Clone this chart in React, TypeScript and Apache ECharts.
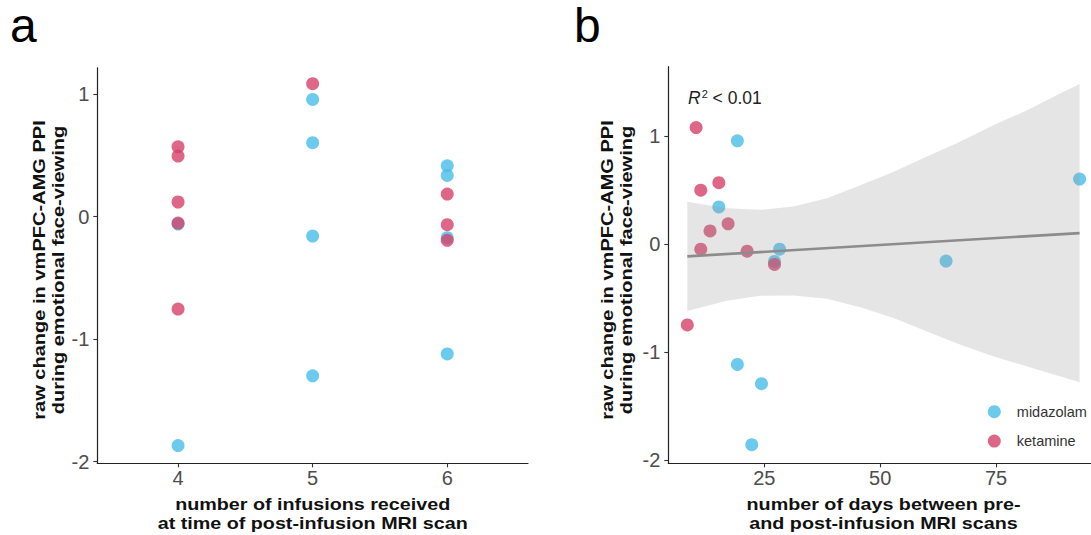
import React, { useEffect, useRef } from 'react';
import * as echarts from 'echarts';

// ---------- data ----------
const infusionTicks = [4, 5, 6];
const daysTicks = [25, 50, 75];
const yTicks = [-2, -1, 0, 1];

// panel a: number of infusions vs change
const infusionsMidazolam: [number, number][] = [
  [4, -1.869], [4, -0.06],
  [5, 0.958], [5, 0.604], [5, -0.158], [5, -1.3],
  [6, 0.416], [6, 0.337], [6, -0.171], [6, -1.121],
];
const infusionsKetamine: [number, number][] = [
  [4, 0.571], [4, 0.495], [4, 0.12], [4, -0.052], [4, -0.754],
  [5, 1.086],
  [6, 0.185], [6, -0.065], [6, -0.193],
];

// panel b: days between scans vs change
const daysMidazolam: [number, number][] = [
  [19.2, 0.957], [93, 0.603], [15.2, 0.345], [28.3, -0.046], [27.2, -0.16],
  [64.2, -0.157], [19.2, -1.114], [24.4, -1.292], [22.3, -1.858],
];
const daysKetamine: [number, number][] = [
  [10.3, 1.08], [11.3, 0.5], [15.2, 0.569], [13.3, 0.123], [17.2, 0.188],
  [11.3, -0.046], [21.3, -0.065], [27.2, -0.188], [8.4, -0.748],
];

// linear fit and its confidence band
const fitDays = [8.4, 93];
const fitValues = [-0.113, 0.102];
const bandDays = [8.4, 16.9, 24.1, 31.3, 38.5, 45.7, 52.9, 60.1, 67.3, 74.5, 81.7, 88.9, 93];
const bandUpper = [0.394, 0.333, 0.318, 0.348, 0.426, 0.545, 0.672, 0.811, 0.95, 1.105, 1.24, 1.398, 1.484];
const bandLower = [-0.618, -0.525, -0.479, -0.476, -0.506, -0.584, -0.685, -0.809, -0.932, -1.04, -1.133, -1.225, -1.28];

const seriesNames = ['midazolam', 'ketamine'];
const colors = ['#47BDE8', '#D6416A'];

const FONT = 'Liberation Sans, Arial, Helvetica, sans-serif';

function axisCommon(ticks: number[]) {
  return {
    type: 'value' as const,
    axisLine: { show: true, onZero: false, lineStyle: { color: '#222', width: 1.2 } },
    axisTick: { show: true, customValues: ticks, length: 4, lineStyle: { color: '#333', width: 1.1 } },
    axisLabel: { customValues: ticks, fontSize: 20, color: '#4d4d4d', fontFamily: FONT },
    splitLine: { show: false },
  };
}

const titleStyle = {
  fontSize: 17, fontWeight: 'bold', fontFamily: FONT, fill: '#111', lineHeight: 19,
  textAlign: 'center', textVerticalAlign: 'middle',
};

export default function App() {
  const ref = useRef<HTMLDivElement>(null);

  useEffect(() => {
    if (!ref.current) return;
    const chart = echarts.init(ref.current, undefined, { renderer: 'svg' });

    const bandData = bandDays.map((d, i) => [d, bandUpper[i], bandLower[i]]);

    const option: any = {
      animation: false,
      backgroundColor: '#ffffff',
      textStyle: { fontFamily: FONT },
      grid: [
        { left: 97.3, top: 67.8, width: 430.7, height: 395.5, outerBoundsMode: 'none', containLabel: false },
        { left: 668.3, top: 66.7, width: 430.3, height: 396.6, outerBoundsMode: 'none', containLabel: false },
      ],
      xAxis: [
        {
          ...axisCommon(infusionTicks),
          gridIndex: 0, min: 3.4, max: 6.6,
          axisLabel: { ...axisCommon(infusionTicks).axisLabel, margin: 5 },
        },
        {
          ...axisCommon(daysTicks),
          gridIndex: 1, min: 4.3, max: 97.1,
          axisLabel: { ...axisCommon(daysTicks).axisLabel, margin: 5 },
        },
      ],
      yAxis: [
        {
          ...axisCommon(yTicks),
          gridIndex: 0, min: -2.014, max: 1.216,
          axisLabel: { ...axisCommon(yTicks).axisLabel, margin: 8 },
        },
        {
          ...axisCommon(yTicks),
          gridIndex: 1, min: -2.03, max: 1.644,
          axisLabel: { ...axisCommon(yTicks).axisLabel, margin: 8 },
        },
      ],
      legend: {
        data: seriesNames,
        orient: 'vertical',
        left: 982.8,
        top: 399.2,
        icon: 'circle',
        itemWidth: 13,
        itemHeight: 13,
        itemGap: 14.4,
        selectedMode: false,
        textStyle: { fontSize: 14.5, color: '#333', fontFamily: FONT, lineHeight: 13, padding: [0, 0, 0, 11] },
      },
      series: [
        {
          name: seriesNames[0], type: 'scatter', xAxisIndex: 0, yAxisIndex: 0,
          data: infusionsMidazolam, symbolSize: 13, itemStyle: { color: colors[0] }, silent: true, z: 2,
        },
        {
          name: seriesNames[1], type: 'scatter', xAxisIndex: 0, yAxisIndex: 0,
          data: infusionsKetamine, symbolSize: 13, itemStyle: { color: colors[1] }, silent: true, z: 2,
        },
        {
          name: seriesNames[0], type: 'scatter', xAxisIndex: 1, yAxisIndex: 1,
          data: daysMidazolam, symbolSize: 13, itemStyle: { color: colors[0] }, silent: true, z: 2,
        },
        {
          name: seriesNames[1], type: 'scatter', xAxisIndex: 1, yAxisIndex: 1,
          data: daysKetamine, symbolSize: 13, itemStyle: { color: colors[1] }, silent: true, z: 2,
        },
        {
          name: 'ci', type: 'custom', xAxisIndex: 1, yAxisIndex: 1,
          data: bandData, encode: { x: 0, y: [1, 2] }, silent: true, z: 3, clip: true,
          renderItem: (params: any, api: any) => {
            if (params.dataIndex !== 0) return { type: 'group', children: [] };
            const up = bandDays.map((d, i) => api.coord([d, bandUpper[i]]));
            const lo = bandDays.map((d, i) => api.coord([d, bandLower[i]])).reverse();
            return {
              type: 'polygon',
              shape: { points: up.concat(lo), smooth: 0 },
              style: { fill: 'rgba(150,150,150,0.25)', stroke: 'none' },
            };
          },
        },
        {
          name: 'fit', type: 'line', xAxisIndex: 1, yAxisIndex: 1,
          data: fitDays.map((d, i) => [d, fitValues[i]]),
          showSymbol: false, symbol: 'none', silent: true, z: 4,
          lineStyle: { color: '#8c8c8c', width: 2.6 },
        },
      ],
      graphic: [
        { type: 'text', x: 10, y: 25, style: { text: 'a', fontSize: 48, fontFamily: FONT, fill: '#000', textVerticalAlign: 'middle' } },
        { type: 'text', x: 574, y: 25, style: { text: 'b', fontSize: 48, fontFamily: FONT, fill: '#000', textVerticalAlign: 'middle' } },
        {
          type: 'text', x: 312.7, y: 513, scaleX: 1.16,
          style: { ...titleStyle, text: 'number of infusions received\nat time of post-infusion MRI scan' },
        },
        {
          type: 'text', x: 883.5, y: 513, scaleX: 1.16,
          style: { ...titleStyle, text: 'number of days between pre-\nand post-infusion MRI scans' },
        },
        {
          type: 'text', x: 48.5, y: 270, rotation: Math.PI / 2, scaleX: 1.18,
          style: { ...titleStyle, text: 'raw change in vmPFC-AMG PPI\nduring emotional face-viewing' },
        },
        {
          type: 'text', x: 617, y: 270, rotation: Math.PI / 2, scaleX: 1.18,
          style: { ...titleStyle, text: 'raw change in vmPFC-AMG PPI\nduring emotional face-viewing' },
        },
        {
          type: 'text', x: 688, y: 97.5,
          style: {
            text: '{r|R}{s|2}{t| < 0.01}',
            textVerticalAlign: 'middle',
            fill: '#222',
            rich: {
              r: { fontSize: 17.5, fontStyle: 'italic', fontFamily: FONT, fill: '#222', lineHeight: 18 },
              s: { fontSize: 11, fontFamily: FONT, fill: '#222', lineHeight: 18, verticalAlign: 'top', padding: [0, 0, 10, 1] },
              t: { fontSize: 17.5, fontFamily: FONT, fill: '#222', lineHeight: 18 },
            },
          },
        },
      ],
    };

    chart.setOption(option);
    return () => chart.dispose();
  }, []);

  return (
    <div
      ref={ref}
      style={{ position: 'fixed', left: 0, top: 0, width: 1091, height: 535, background: '#fff' }}
    />
  );
}
